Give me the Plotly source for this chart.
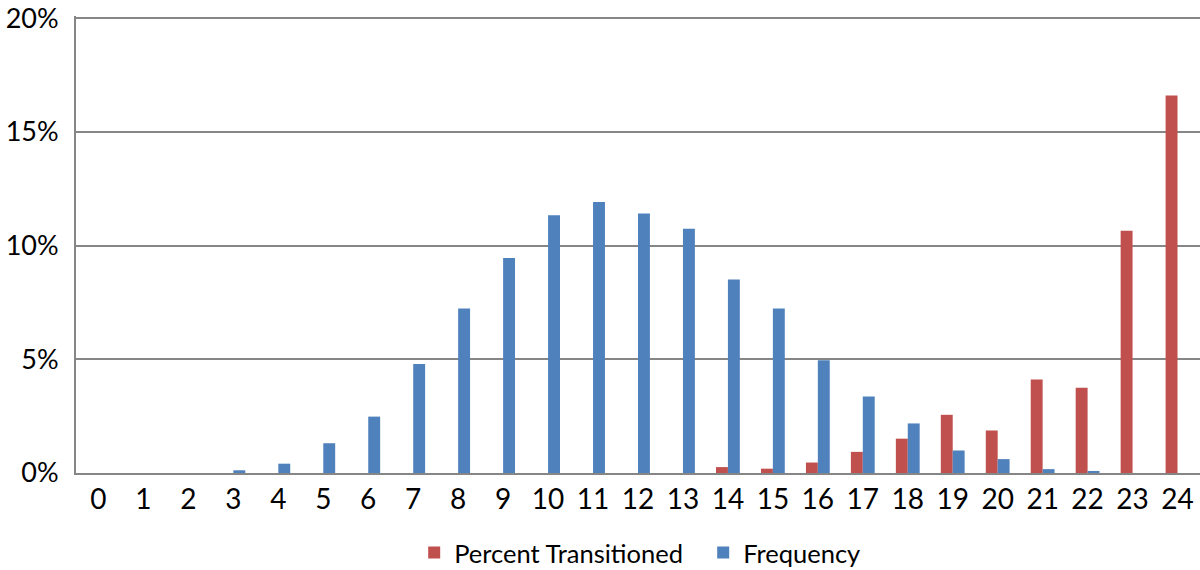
import plotly.graph_objects as go

categories = [str(i) for i in range(25)]
percent_transitioned = [0, 0, 0, 0, 0, 0, 0, 0, 0, 0, 0, 0, 0, 0, 0.26, 0.19,
                        0.46, 0.93, 1.51, 2.56, 1.87, 4.11, 3.75, 10.65, 16.6]
frequency = [0, 0, 0, 0.12, 0.41, 1.31, 2.48, 4.79, 7.24, 9.46, 11.34, 11.92, 11.41,
             10.74, 8.51, 7.24, 4.96, 3.36, 2.18, 0.99, 0.61, 0.17, 0.09, 0, 0]
y_ticks = [0, 5, 10, 15, 20]
y_tick_labels = ["0%", "5%", "10%", "15%", "20%"]

fig = go.Figure()
fig.add_trace(go.Bar(x=categories, y=percent_transitioned, name="Percent Transitioned",
                     marker=dict(color="#C0504D", line=dict(width=0))))
fig.add_trace(go.Bar(x=categories, y=frequency, name="Frequency",
                     marker=dict(color="#4F81BD", line=dict(width=0))))

fig.update_layout(
    width=1200, height=570,
    margin=dict(l=76, r=0, t=16, b=97, autoexpand=False),
    paper_bgcolor="white", plot_bgcolor="white",
    barmode="group", bargap=0.47, bargroupgap=0,
    font=dict(family="Lato, Open Sans, sans-serif", color="black"),
    showlegend=True,
    legend=dict(orientation="h", x=0.558, xanchor="center", y=-0.175, yanchor="middle",
                font=dict(size=25.5), itemwidth=30, entrywidth=244, traceorder="normal"),
    xaxis=dict(type="category", showgrid=False, showline=True, linecolor="#868686",
               linewidth=2, ticks="", tickfont=dict(size=28), fixedrange=True),
    yaxis=dict(range=[0, 20.1], tickmode="array", tickvals=y_ticks, ticktext=y_tick_labels,
               showgrid=True, gridcolor="#868686", gridwidth=1.5, showline=True,
               linecolor="#868686", linewidth=2, zeroline=False, tickfont=dict(size=27),
               ticks="", ticklabelstandoff=10, ticklabeloverflow="allow", fixedrange=True),
)

fig.write_html("out.html", config={"displayModeBar": False})

with open("out.html", "r", encoding="utf-8") as f:
    html = f.read()
html = html.replace("<head>", "<head><style>html,body{margin:0;padding:0;overflow:hidden;}</style>", 1)
with open("out.html", "w", encoding="utf-8") as f:
    f.write(html)
